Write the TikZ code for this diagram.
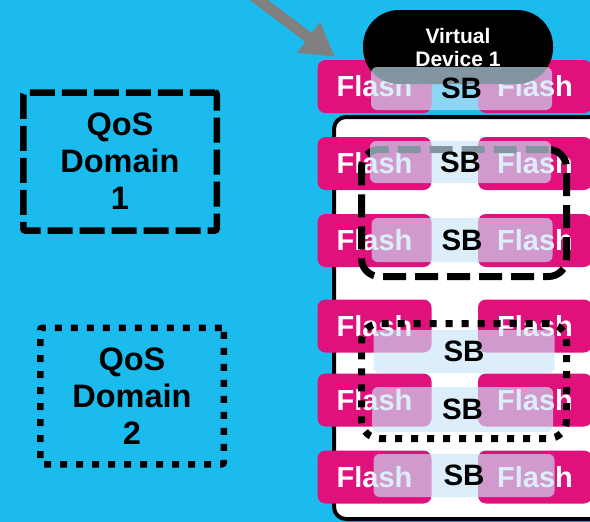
\documentclass[tikz,border=0pt]{standalone}
\usepackage{fontspec}
\setmainfont{Liberation Sans}
\usetikzlibrary{positioning,arrows.meta}
\definecolor{skycyan}{RGB}{27,187,238}
\definecolor{flashpink}{RGB}{224,16,125}
\definecolor{sbblue}{RGB}{201,229,248}
\definecolor{feedgrey}{RGB}{128,128,128}
\tikzset{
  flashbox/.style={fill=flashpink, rounded corners=8pt, inner sep=0pt,
                   minimum width=114pt, minimum height=53pt, text=white,
                   font=\fontsize{29}{30}\selectfont\bfseries},
  sbbox/.style={fill=sbblue, fill opacity=0.65, text opacity=1,
                rounded corners=6pt, inner sep=0pt, minimum width=181pt,
                font=\fontsize{29.5}{30}\selectfont\bfseries},
  vdev/.style={fill=black, rounded corners=36pt, minimum width=190pt,
               minimum height=74pt, align=center, text=white,
               font=\fontsize{21}{23}\selectfont\bfseries},
  qosdash/.style={draw=black, line width=6.5pt, dash pattern=on 25pt off 7pt,
                  rounded corners=2pt, align=center, inner sep=0pt,
                  font=\fontsize{32.5}{37}\selectfont\bfseries},
  qosdot/.style={qosdash, dash pattern=on 7pt off 9pt},
  grpdash/.style={draw=black, line width=7pt, dash pattern=on 23pt off 9pt,
                  rounded corners=18pt, inner sep=0pt},
  grpdot/.style={grpdash, dash pattern=on 7pt off 9pt},
  chassis/.style={draw=black, fill=white, line width=4pt, rounded corners=12pt},
  feedarrow/.style={draw=feedgrey, line width=11pt,
                    -{Triangle[length=33pt,width=36pt]}},
}
\newcommand{\FLX}{374.5}
\newcommand{\FRX}{535}
\newcommand{\flashpair}[2]{%
  \node[flashbox] (#1l) at (\FLX,#2) {Flash};
  \node[flashbox] (#1r) at (\FRX,#2) {Flash};}
\newcommand{\sbcell}[4]{\node[sbbox, minimum height=#4pt] (#1) at (#2,#3) {SB};}

\begin{document}
\begin{tikzpicture}[x=1pt,y=-1pt]
  \useasboundingbox (0,0) rectangle (590,522);
  \clip (0,0) rectangle (590,522);
  \fill[skycyan] (0,0) rectangle (590,522);

  \coordinate (feedsrc) at (232,-20);
  \coordinate (feedtip) at (335,57);
  \draw[feedarrow] (feedsrc) -- (feedtip);

  \node[qosdash, minimum width=193.5pt, minimum height=138pt] (dom1) at (120,161.5) {QoS\\Domain\\1};
  \node[qosdot, minimum width=183.5pt, minimum height=136.5pt] (dom2) at (132,396) {QoS\\Domain\\2};

  \draw[chassis] (334,117) rectangle (640,519);

  \flashpair{fl1}{86.5}
  \flashpair{fl2}{163.5}
  \flashpair{fl3}{240.5}
  \flashpair{fl4}{326}
  \flashpair{fl5}{400}
  \flashpair{fl6}{477}

  \node[vdev] (vd1) at (458,47) {Virtual\\Device 1};

  \node[grpdash, minimum width=205pt, minimum height=127pt] (grp1) at (464,213) {};

  \sbcell{sb1}{461.5}{88.5}{43}
  \sbcell{sb2}{460.5}{162}{42}
  \sbcell{sb3}{462}{240}{44}
  \sbcell{sb4}{464}{351.5}{43}
  \sbcell{sb5}{462.5}{409.5}{45}
  \sbcell{sb6}{464}{475.5}{43}

  \node[grpdot, minimum width=205pt, minimum height=115pt] (grp2) at (464,381) {};
\end{tikzpicture}
\end{document}
